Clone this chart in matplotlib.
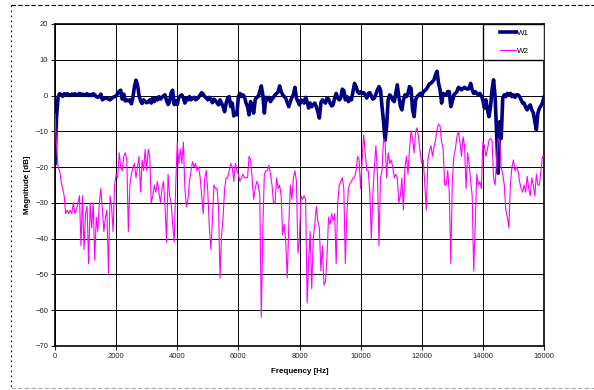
import numpy as np
import matplotlib
matplotlib.use("Agg")
from matplotlib import pyplot as plt
from matplotlib.lines import Line2D
from matplotlib.patches import Rectangle

plt.rcParams["font.family"] = ["Liberation Sans", "DejaVu Sans"]

# measurement grid, 50 Hz steps
freq = np.arange(0, 16001, 50)

# W1 magnitude [dB]
w1 = [
    -19, -6, -0.5, 0.5, 0.3, -0.2, 0.5, 0.2, 0.5, 0.2, 0, 0.4, 0.3, 0.5, 0.1, 0.3, 0.6, 0.2, 0.4, 0,
    0.3, 0.5, 0, 0.3, 0, 0.5, 0.2, -0.3, -0.5, -0.3, 0.4, -1.2, -0.8, -0.8, -0.7, -1.0, -1.2, -0.8, -0.5, -0.3,
    -0.1, 0.5, 1.2, 1.5, -1.0, 0.4, -1.5, -1.2, -1.5, -1.2, -2.3, -0.5, 2.5, 4.3, 3.0, 0, -1.5, -2.2, -1.2, -1.7,
    -2.0, -1.8, -1.2, -2.1, -0.7, -1.7, -0.7, -1.2, -0.3, -1.0, -0.5, -0.1, 0.2, -1.4, -2.5, -1.7, 0.8, 1.5, -2.5, -1.5,
    -2.5, -0.5, -0.1, 0.2, -0.7, -2.1, -0.7, -1.2, -0.3, -1.2, -0.7, -0.5, -1.2, -0.9, -0.5, 0.2, 0.8, 0.4, -0.3, -0.7,
    -1.2, -0.5, -1.0, -2.0, -1.0, -1.4, -2.0, -2.6, -1.2, -2.1, -3.1, -4.5, -2.1, -0.7, -0.3, -3.1, -2.1, -5.7, -4.9, -5.4,
    -0.3, 0.6, -0.3, 0.2, -0.3, -2.1, -3.1, -5.4, -1.7, -3.1, -4.9, -1.2, -0.5, -0.3, 1.1, 2.7, 0.2, -4.9, -0.5, -1.2,
    -0.5, -1.7, -1.0, -0.5, 0.2, 0.6, 1.1, 2.7, 1.1, 0.2, -0.3, -0.7, -2.0, -3.1, -1.7, -0.5, 0.2, 2.3, -0.7, -1.7,
    -2.6, -1.2, -1.7, -2.1, -0.5, -1.7, -3.5, -2.1, -3.1, -2.6, -2.1, -3.1, -4.5, -6.3, -2.0, -1.2, -1.7, -2.1, -0.7, -1.0,
    -2.1, -2.9, -2.6, -0.7, 0.6, -0.7, -1.2, -0.7, 1.8, 1.4, -1.2, -0.3, -1.7, -0.7, -1.2, 1.1, 3.4, 2.5, 1.1, 0.6,
    1.1, 0.6, 0.8, 0.2, -0.7, 0.6, 0.8, -0.1, -1.0, -0.7, 0.4, 1.6, 2.5, 1.6, -3.1, -7.3, -12.5, -8.7, -1.2, 0.2,
    -0.3, -1.2, -1.7, 0.6, 3.0, -0.3, -2.9, -4.0, -1.2, 0.2, -0.3, 0.6, 2.5, 2.0, -4.0, -5.9, -1.2, -0.3, 0.2, 0.6,
    -0.1, 1.1, 1.4, 1.8, 2.5, 3.3, 3.4, 3.9, 4.4, 5.8, 6.8, 3.4, 1.6, -2.1, 0.6, 0.2, 0.2, 1.1, 1.1, -3.1,
    -1.7, 0.2, 0.6, 1.1, 2.3, 2.0, 1.6, 2.0, 2.3, 2.0, 1.8, 2.0, 3.4, 1.6, 0.6, 1.1, 0.6, 0.2, 0.6, -0.1,
    -1.2, -3.5, -1.2, -4.0, -5.9, -3.1, 1.6, 4.4, -0.3, -10.5, -21.7, -7.3, -12.0, -0.7, 0.2, -0.3, 0.6, 0.2, 0.6, -0.3,
    0.2, -0.5, 0.2, 0.2, -0.3, -1.2, -2.1, -2.1, -3.3, -4.0, -3.1, -2.6, -4.0, -4.8, -7.3, -9.6, -4.9, -3.5, -2.9, -2.0,
    -0.5,
]

# W2 magnitude [dB]
w2 = [
    -5, -14, -20, -21, -24, -26, -28, -33, -32, -33, -32, -33, -30, -33, -32, -30, -28, -42, -28, -43,
    -33, -31, -47, -30, -37, -30, -46, -34, -38, -30, -26, -32, -38, -34, -32, -50, -28, -31, -38, -25,
    -22, -23, -16, -20, -21, -17, -16, -18, -38, -25, -22, -20, -19, -23, -20, -17, -27, -18, -21, -15,
    -21, -15, -17, -30, -28, -25, -27, -24, -27, -30, -26, -24, -31, -41, -22, -28, -30, -36, -41, -25,
    -13, -19, -15, -19, -13, -26, -31, -29, -24, -21, -18.5, -20, -19, -21, -20, -23, -28, -33, -23, -21,
    -27, -37, -43, -35, -25, -26, -26, -31, -51, -39, -34, -26, -23, -23, -21, -19, -20, -24, -19, -21,
    -22, -24, -23, -22, -23, -23, -23, -17, -18, -23, -29, -26, -24, -25, -28, -62, -37, -22, -21, -21,
    -19.5, -22, -25, -30, -30, -23, -26, -25, -28, -39, -36, -41, -51, -36, -25, -29, -23, -21, -24, -44,
    -40, -28, -29, -28, -29, -58, -46, -38, -54, -40, -36, -31, -35, -37, -49, -42, -53, -52, -45, -34,
    -36, -33, -35, -33, -47, -30, -25, -24, -23, -26, -47, -33, -26, -24.5, -24, -23, -23, -21, -17, -18,
    -26, -18, -11, -16, -21, -21, -27, -40, -28, -20, -14, -22, -42, -23, -21, -12, -13, -23, -16, -19,
    -18, -20, -23, -22, -23, -30, -28, -23, -32, -20, -17, -22, -15, -10, -12, -16, -10, -9, -12, -16,
    -19, -18, -25, -32, -18, -15.5, -14, -17, -14.5, -12.5, -9.5, -8, -8.5, -13, -15, -25, -25, -21, -27, -47,
    -24, -17, -15, -11.5, -10, -13, -17, -11.5, -14, -26, -16, -19, -24, -28, -49, -36, -22, -25, -24, -26,
    -13, -14, -17, -15, -12.5, -12, -12.5, -23, -25, -18, -12, -13, -20, -22, -25, -32, -34, -37, -25, -20,
    -18, -21, -20, -21, -24, -26, -27, -25, -27, -22.6, -26, -28, -23, -25, -28, -22, -25, -25, -21, -17,
    -17,
]

x_ticks = np.arange(0, 16001, 2000)
y_ticks = np.arange(-70, 21, 10)

fig = plt.figure(figsize=(5.94, 3.90), dpi=100)
ax = fig.add_axes([55 / 594, 1 - 346 / 390, 489 / 594, 322 / 390])

ax.plot(freq, w1, color="#000080", lw=2.6, label="W1", zorder=3, solid_joinstyle="round")
ax.plot(freq, w2, color="#FF00FF", lw=0.8, label="W2", zorder=4)

ax.set_xlim(0, 16000)
ax.set_ylim(-70, 20)
ax.set_xticks(x_ticks)
ax.set_yticks(y_ticks)
ax.grid(True, color="black", lw=0.7)
ax.set_axisbelow(True)
ax.tick_params(labelsize=5.5, length=3, width=0.8, pad=2, colors="#222222")
for sp in ax.spines.values():
    sp.set_linewidth(1.2)
    sp.set_color("black")

ax.set_xlabel("Frequency [Hz]", fontsize=5.8, fontweight="bold", labelpad=6)
ax.set_ylabel("Magnitude [dB]", fontsize=5.8, fontweight="bold", labelpad=3)

# legend box in the top right corner of the plot area
ax.add_patch(Rectangle((0.875, 0.888), 0.125, 0.112, transform=ax.transAxes,
                       facecolor="white", edgecolor="black", lw=1.0, zorder=9))
leg = ax.legend(loc="center", bbox_to_anchor=(0.94, 0.944), frameon=False,
                fontsize=5.8, handlelength=2.0, handletextpad=0.15,
                labelspacing=1.25, borderpad=0)
leg.set_zorder(10)

# dashed outline around the chart area
fig.add_artist(Line2D([11 / 594, 1], [1 - 5 / 390] * 2, transform=fig.transFigure,
                      color="black", lw=0.8, ls=(0, (4, 2))))
fig.add_artist(Line2D([11 / 594] * 2, [1 - 5 / 390, 2 / 390], transform=fig.transFigure,
                      color="black", lw=0.8, ls=(0, (1.5, 3))))
fig.add_artist(Line2D([11 / 594, 1], [2 / 390] * 2, transform=fig.transFigure,
                      color="#aaaaaa", lw=0.8, ls=(0, (4, 2))))

fig.savefig("out.png", dpi=100)
